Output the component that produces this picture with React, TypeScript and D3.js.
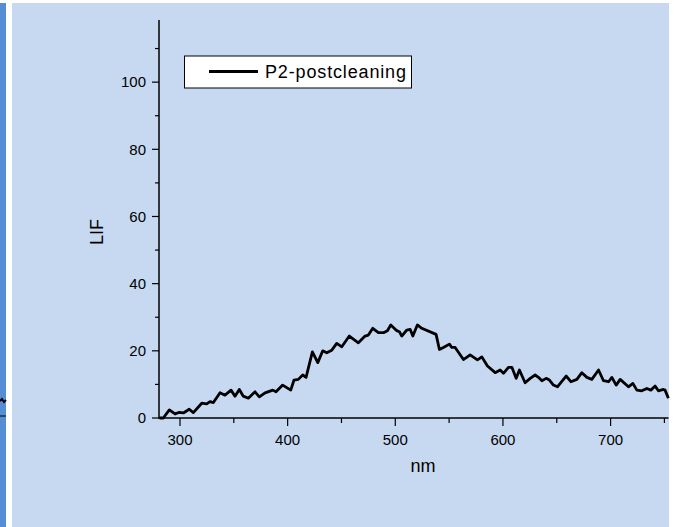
import React from "react";
import * as d3 from "d3";

const W = 675;
const H = 527;

const wavelengths: number[] = [
  281, 284.5, 290.1, 295.4, 299.3, 303.1, 308.6, 312.4, 320.2, 324.8, 327.9, 331, 337.2, 341.8, 347.4,
  351.1, 355.1, 358.8, 363.5, 369.7, 373.7, 379, 386.2, 389.2, 395.4, 402.9, 405.9, 409.9, 414,
  417.1, 423, 428, 432.6, 436.3, 441, 445.6, 450.3, 457.3, 465.7, 471.9, 475, 479.1, 484.3, 489,
  492.7, 495.8, 501.4, 503.8, 506, 510.7, 513.8, 516.3, 520.5, 524.6, 537.9, 541, 544.7, 550.3,
  552.5, 555.6, 563.3, 569.5, 576.3, 580.4, 585.6, 592.8, 597.4, 600.5, 605.1, 608.3, 612.3,
  615.3, 620.6, 625.3, 629.9, 633, 636.2, 640.1, 643.2, 646.9, 650.6, 658.7, 663.1, 668.7, 673.3,
  678, 682.6, 688.8, 693.4, 698.1, 701.2, 705.2, 708.9, 716.6, 720.7, 724.4, 729, 733.7, 737.4,
  741.4, 744.4, 749.1, 750.6, 753.7,
];
const lifValues: number[] = [
  0, 0, 2.4, 1.2, 1.7, 1.5, 2.6, 1.6, 4.4, 4.2, 4.9, 4.6, 7.5, 6.8, 8.3,
  6.5, 8.5, 6.5, 5.9, 7.8, 6.3, 7.5, 8.3, 7.8, 9.8, 8.3, 11.3, 11.5, 12.8,
  12.1, 19.7, 16.5, 20, 19.4, 20.2, 22.2, 21.2, 24.4, 22.4, 24.4, 24.7, 26.7, 25.4, 25.4,
  26, 27.7, 26, 25.7, 24.4, 26.2, 26.4, 24.4, 27.7, 26.7, 24.9, 20.4, 21, 22,
  21, 21, 17.4, 18.8, 17.3, 18.2, 15.5, 13.5, 14.3, 13.3, 15.1, 15.1, 11.8,
  14.3, 10.5, 11.8, 12.8, 12.1, 11.1, 11.8, 11.3, 9.8, 9.3, 12.5, 10.8, 11.5, 13.5,
  12.1, 11.5, 14.3, 11.1, 10.8, 12.1, 9.8, 11.5, 9.3, 10.3, 8.3, 8.1, 8.8, 8.3,
  9.5, 8.1, 8.5, 8.3, 5.9,
];

const xMajorTicks = [300, 400, 500, 600, 700];
const xMinorTicks = [350, 450, 550, 650, 750];
const yMajorTicks = [0, 20, 40, 60, 80, 100];
const yMinorTicks = [10, 30, 50, 70, 90, 110];

const seriesName = "P2-postcleaning";
const xTitle = "nm";
const yTitle = "LIF";

const FONT = "Arial, 'Liberation Sans', sans-serif";

export default function App() {
  const x = d3.scaleLinear().domain([280.5, 753.8]).range([159, 668.5]);
  const y = d3.scaleLinear().domain([0, 118.5]).range([418, 20]);

  const data = wavelengths.map((w, i) => [w, lifValues[i]] as [number, number]);
  const line = d3
    .line<[number, number]>()
    .x((d) => x(d[0]))
    .y((d) => y(d[1]));

  const x0 = x.range()[0];
  const x1 = x.range()[1];
  const y0 = y.range()[0];
  const y1 = y.range()[1];

  return (
    <div style={{ position: "fixed", left: 0, top: 0 }}>
      <svg width={W} height={H} style={{ display: "block" }}>
        <rect x={0} y={0} width={W} height={H} fill="#ffffff" />
        <rect x={0} y={3} width={6} height={H - 3} fill="#558ed5" />
        <rect x={12} y={3} width={657} height={H - 3} fill="#c6d9f1" />
        {/* fragment of neighbouring figure */}
        <path d="M0,401 L2,399 L4,402 L6,400" fill="none" stroke="#000" strokeWidth={2} />
        <line x1={0} x2={6} y1={416} y2={416} stroke="#000" strokeWidth={1} />

        <g>
          <path d={line(data) || ""} fill="none" stroke="#000" strokeWidth={2.8} strokeLinejoin="round" />
        </g>

        {/* axes */}
        <line x1={x0} x2={x0} y1={y1} y2={y0 + 0.5} stroke="#000" strokeWidth={1.5} />
        <line x1={x0 - 0.5} x2={x1} y1={y0} y2={y0} stroke="#000" strokeWidth={1.5} />

        {yMajorTicks.map((t) => (
          <g key={"ym" + t}>
            <line x1={x0 - 7} x2={x0} y1={y(t)} y2={y(t)} stroke="#000" strokeWidth={1.2} />
            <text
              x={x0 - 13}
              y={y(t) + 5.3}
              textAnchor="end"
              fontFamily={FONT}
              fontSize={15}
              fill="#000"
            >
              {t}
            </text>
          </g>
        ))}
        {yMinorTicks.map((t) => (
          <line key={"yn" + t} x1={x0 - 4} x2={x0} y1={y(t)} y2={y(t)} stroke="#000" strokeWidth={1.2} />
        ))}
        {xMajorTicks.map((t) => (
          <g key={"xm" + t}>
            <line x1={x(t)} x2={x(t)} y1={y0} y2={y0 + 8} stroke="#000" strokeWidth={1.2} />
            <text
              x={x(t)}
              y={y0 + 27}
              textAnchor="middle"
              fontFamily={FONT}
              fontSize={15}
              fill="#000"
            >
              {t}
            </text>
          </g>
        ))}
        {xMinorTicks.map((t) => (
          <line key={"xn" + t} x1={x(t)} x2={x(t)} y1={y0} y2={y0 + 5} stroke="#000" strokeWidth={1.2} />
        ))}

        <text x={423} y={472} textAnchor="middle" fontFamily={FONT} fontSize={18} fill="#000">
          {xTitle}
        </text>
        <text
          transform="translate(103,232) rotate(-90)"
          textAnchor="middle"
          fontFamily={FONT}
          fontSize={18}
          fill="#000"
        >
          {yTitle}
        </text>

        {/* legend */}
        <rect x={184.5} y={56} width={227} height={32} fill="#ffffff" stroke="#000" strokeWidth={1} />
        <line x1={209} x2={258} y1={71.5} y2={71.5} stroke="#000" strokeWidth={2.8} />
        <text x={265} y={78} fontFamily={FONT} fontSize={18} textLength={141} fill="#000">
          {seriesName}
        </text>
      </svg>
    </div>
  );
}
